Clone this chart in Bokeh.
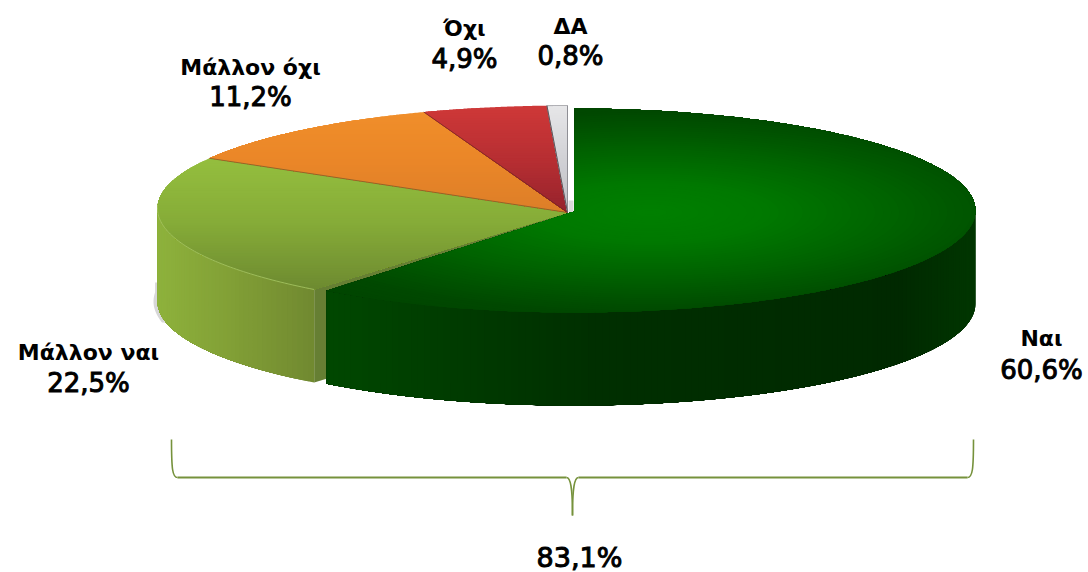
import numpy as np
from bokeh.plotting import figure
from bokeh.models import Range1d
from bokeh.core.properties import value
from bokeh.embed import file_html
from bokeh.resources import INLINE

categories = ["Ναι", "Μάλλον ναι", "Μάλλον όχι", "Όχι", "ΔΑ"]
shares = [60.6, 22.5, 11.2, 4.9, 0.8]
share_labels = ["60,6%", "22,5%", "11,2%", "4,9%", "0,8%"]
bracket_label = "83,1%"

# page geometry, in screenshot pixels
FONT = value("DejaVu Sans")
DEPTH = 93
GREEN = dict(cx=574.0, cy=210.0, rx=401.0, ry=102.0, ax=574.0, ay=211.0)
REST = dict(cx=567.0, cy=208.0, rx=410.0, ry=103.0, ax=567.0, ay=212.0)

p = figure(width=1088, height=572, x_range=Range1d(0, 1088), y_range=Range1d(572, 0),
           output_backend="svg", toolbar_location=None, min_border=0,
           x_axis_type=None, y_axis_type=None, outline_line_color=None)
p.grid.visible = False
p.background_fill_color = "#ffffff"
p.border_fill_color = "#ffffff"


def hexc(c):
    return "#%02x%02x%02x" % tuple(int(round(v)) for v in c)


def mix(stops, t):
    xs = [s[0] for s in stops]
    return tuple(np.interp(t, xs, [s[1][i] for s in stops]) for i in range(3))


def rim(g, a0, a1, n=160):
    th = np.radians(np.linspace(a0, a1, n))
    return g["cx"] + g["rx"] * np.sin(th), g["cy"] - g["ry"] * np.cos(th)


def clip_y(x, y, limit, keep_below=True):
    ox, oy = [], []
    n = len(x)
    for i in range(n):
        x0, y0, x1, y1 = x[i], y[i], x[(i + 1) % n], y[(i + 1) % n]
        in0 = y0 >= limit if keep_below else y0 <= limit
        in1 = y1 >= limit if keep_below else y1 <= limit
        if in0:
            ox.append(x0); oy.append(y0)
        if in0 != in1:
            t = (limit - y0) / (y1 - y0)
            ox.append(x0 + t * (x1 - x0)); oy.append(limit)
    return ox, oy


def outline(g, a0, a1):
    x, y = rim(g, a0, a1)
    return np.r_[g["ax"], x], np.r_[g["ay"], y]


def band_fill(x, y, stops):
    """Vertical gradient: painted top to bottom, each band covering the rest."""
    y0, y1 = min(y), max(y)
    xs, ys, cs = [], [], []
    for lim in np.arange(y0, y1, 2.5):
        cx, cy = clip_y(list(x), list(y), lim)
        if len(cx) > 2:
            xs.append(cx); ys.append(cy); cs.append(hexc(mix(stops, lim)))
    p.patches(xs, ys, fill_color=cs, line_color=None)


def side_fill(g, a0, a1, stops):
    """Outer wall: painted segment by segment, each covering the rest."""
    xs, ys, cs = [], [], []
    for a in np.arange(a0, a1, 1.0):
        x, y = rim(g, a, a1, 60)
        xs.append(np.r_[x, x[::-1]]); ys.append(np.r_[y, y[::-1] + DEPTH])
        cs.append(hexc(mix(stops, x[0])))
    p.patches(xs, ys, fill_color=cs, line_color=None)


def radial_fill(x, y, c, radii, stops):
    """Elliptical gradient confined to a slice that is star-shaped about c."""
    px, py = np.asarray(x), np.asarray(y)
    qx, qy = np.roll(px, -1), np.roll(py, -1)
    A, B = radii
    ang = np.r_[np.linspace(0, 2 * np.pi, 420, endpoint=False),
                np.arctan2((py - c[1]) / B, (px - c[0]) / A) % (2 * np.pi)]
    ang = np.sort(ang)
    dx, dy = np.cos(ang) * A, np.sin(ang) * B
    reach = np.empty(len(ang))
    ex, ey = qx - px, qy - py
    for i in range(len(ang)):
        den = dx[i] * ey - dy[i] * ex
        with np.errstate(divide="ignore", invalid="ignore"):
            t = ((px - c[0]) * ey - (py - c[1]) * ex) / den
            u = ((px - c[0]) * dy[i] - (py - c[1]) * dx[i]) / den
        ok = (t > 0) & (u >= -1e-9) & (u <= 1 + 1e-9)
        reach[i] = t[ok].min()
    xs, ys, cs = [], [], []
    for s in np.linspace(1.4, 0.02, 70):
        r = np.minimum(s, reach)
        xs.append(c[0] + r * dx); ys.append(c[1] + r * dy)
        cs.append(hexc(mix(stops, s)))
    p.patches(xs, ys, fill_color=cs, line_color=None)


# slice angles, clockwise from the top of the ellipse
edges = np.r_[0, np.cumsum(shares) / sum(shares) * 360]
a_green, a_lime, a_orange, a_red = edges[1:5]

# soft shadow at the left of the wall
sx, sy = rim(REST, 255, 275, 30)
sx, sy = np.r_[sx, sx[::-1]] - 4, np.r_[sy, sy[::-1] + DEPTH]
sx, sy = clip_y(*clip_y(list(sx), list(sy), 282), 322, keep_below=False)
p.patch(sx, sy, fill_color="#8c8c8c", fill_alpha=0.35, line_color=None)

# faint shade in the gap beside the grey slice
p.patch([568, 573, 573, 568], [200, 200, 212, 212], fill_color="#d9d9d9", line_color=None)

# lime wall and cut face
cx0, cy0 = rim(REST, a_green, a_green, 1)
cutx = [cx0[0], REST["ax"]]
cuty = [cy0[0], REST["ay"]]
p.patch(cutx + cutx[::-1], cuty + [cuty[1] + DEPTH, cuty[0] + DEPTH],
        fill_color="#667f33", line_color=None)
side_fill(REST, a_green, 272,
          [(157, (142, 178, 60)), (230, (130, 160, 54)), (320, (112, 136, 48))])

# lime top
lx, ly = outline(REST, a_green, a_lime)
band_fill(lx, ly, [(158, (148, 190, 62)), (220, (134, 172, 56)), (292, (108, 136, 48))])
wx, wy = rim(REST, a_green, 272, 70)
p.line(wx, wy, line_color="#a9c765", line_width=1, line_alpha=0.8)

# orange top
ox, oy = outline(REST, a_lime, a_orange)
band_fill(ox, oy, [(112, (240, 142, 42)), (160, (234, 134, 40)), (212, (220, 126, 40))])

# red top
rx_, ry_ = outline(REST, a_orange, a_red)
band_fill(rx_, ry_, [(105, (206, 56, 56)), (160, (182, 46, 50)), (212, (148, 34, 44))])

# grey top
gx, gy = outline(REST, a_red, 360)
band_fill(gx, gy, [(105, (230, 230, 232)), (212, (188, 188, 194))])
p.patch(gx, gy, fill_color=None, line_color="#8f8f95", line_width=1)

# slice seams
for a, col in [(a_lime, "#6e5a2a"), (a_orange, "#6b2a22"), (a_red, "#4a3a40")]:
    ex_, ey_ = rim(REST, a, a, 1)
    p.line([REST["ax"], ex_[0]], [REST["ay"], ey_[0]], line_color=col, line_width=1, line_alpha=0.7)

# green wall
side_fill(GREEN, 90, a_green,
          [(326, (0, 72, 0)), (450, (0, 60, 0)), (600, (0, 47, 0)), (900, (0, 41, 0)), (975, (0, 54, 0))])

# green top
bx, by = outline(GREEN, 0, a_green)
p.patch(bx, by, fill_color="#004600", line_color=None)
radial_fill(bx, by, (650.0, 212.0), (GREEN["rx"], GREEN["ry"]),
            [(0.0, (0, 128, 0)), (0.3, (0, 120, 0)), (0.6, (0, 100, 0)),
             (0.85, (0, 82, 0)), (1.0, (0, 72, 0)), (1.4, (0, 64, 0))])

# bracket
BR = dict(x0=171.0, x1=973.0, xm=572.0, top=439.0, mid=477.0, bottom=515.0)
for kw in [dict(x0=[BR["x0"]], y0=[BR["top"]], x1=[BR["x0"] + 6], y1=[BR["mid"]],
                cx0=[BR["x0"]], cy0=[BR["mid"] - 8], cx1=[BR["x0"] + 1], cy1=[BR["mid"]]),
           dict(x0=[BR["x1"]], y0=[BR["top"]], x1=[BR["x1"] - 6], y1=[BR["mid"]],
                cx0=[BR["x1"]], cy0=[BR["mid"] - 8], cx1=[BR["x1"] - 1], cy1=[BR["mid"]]),
           dict(x0=[BR["xm"] - 6], y0=[BR["mid"]], x1=[BR["xm"]], y1=[BR["bottom"]],
                cx0=[BR["xm"] - 2], cy0=[BR["mid"]], cx1=[BR["xm"]], cy1=[BR["mid"] + 10]),
           dict(x0=[BR["xm"] + 6], y0=[BR["mid"]], x1=[BR["xm"]], y1=[BR["bottom"]],
                cx0=[BR["xm"] + 2], cy0=[BR["mid"]], cx1=[BR["xm"]], cy1=[BR["mid"] + 10])]:
    p.bezier(line_color="#76923c", line_width=1.6, **kw)
p.line([BR["x0"] + 6, BR["xm"] - 6], [BR["mid"]] * 2, line_color="#76923c", line_width=2)
p.line([BR["xm"] + 6, BR["x1"] - 6], [BR["mid"]] * 2, line_color="#76923c", line_width=2)

# labels
name_pos = [(1041, 338), (88, 352), (250, 67), (464, 28), (570, 26)]
value_pos = [(1041, 369), (88, 382), (250, 96), (464, 58), (570, 55)]
for name, share, (nx, ny), (vx, vy) in zip(categories, share_labels, name_pos, value_pos):
    p.text([nx], [ny], text=[name], text_font=FONT, text_font_style="bold", text_font_size="22px",
           text_align="center", text_baseline="middle", text_color="#000000")
    p.text([vx], [vy], text=[share], text_font=FONT, text_font_style="normal", text_font_size="26px",
           text_align="center", text_baseline="middle", text_color="#000000",
           text_outline_color="#000000")
p.text([579], [557], text=[bracket_label], text_font=FONT, text_font_style="normal", text_font_size="27px",
       text_align="center", text_baseline="middle", text_color="#000000",
       text_outline_color="#000000")

open("out.html", "w").write(file_html(p, INLINE))
